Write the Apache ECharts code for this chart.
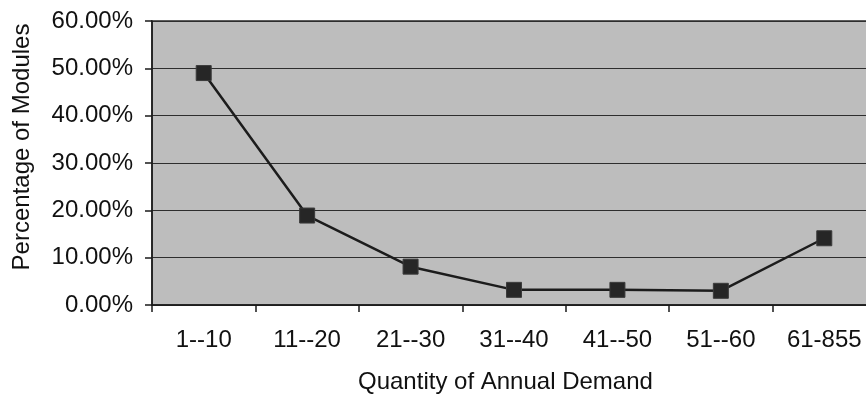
<!DOCTYPE html>
<html>
<head>
<meta charset="utf-8">
<style>
  html, body { margin: 0; padding: 0; background: #ffffff; overflow: hidden; }
  /* The plot runs a little past the right edge of the window, so the
     chart surface is slightly wider than the viewport and clipped. */
  #chart { width: 876px; height: 396px; }
</style>
<script src="https://cdn.jsdelivr.net/npm/echarts@6/dist/echarts.min.js"></script>
</head>
<body>
<div id="chart"></div>
<script>
// Demand buckets and the share of modules falling into each (percent)
const demandRanges = ['1--10', '11--20', '21--30', '31--40', '41--50', '51--60', '61-855'];
const moduleShare = [49.0, 18.9, 8.1, 3.2, 3.2, 3.0, 14.1];
const yTicks = { min: 0, max: 60, step: 10 };

const FONT = '"Liberation Sans", Arial, Helvetica, sans-serif';
const chart = echarts.init(document.getElementById('chart'), null, { renderer: 'canvas' });

chart.setOption({
  animation: false,
  backgroundColor: '#ffffff',
  textStyle: { fontFamily: FONT },
  grid: {
    left: 152,
    top: 21,
    right: 0,
    bottom: 91,
    containLabel: false,
    show: true,
    backgroundColor: '#bdbdbd',
    borderColor: '#2a2a2a',
    borderWidth: 1.5
  },
  xAxis: {
    type: 'category',
    data: demandRanges,
    boundaryGap: true,
    axisLine: { lineStyle: { color: '#1a1a1a', width: 1.5 } },
    axisTick: { show: true, inside: false, length: 7, lineStyle: { color: '#1a1a1a', width: 1.5 } },
    axisLabel: { color: '#111', fontSize: 24, margin: 23, fontFamily: FONT, interval: 0 },
    splitLine: { show: false }
  },
  yAxis: {
    type: 'value',
    min: yTicks.min,
    max: yTicks.max,
    interval: yTicks.step,
    axisLine: { show: true, lineStyle: { color: '#1a1a1a', width: 1.5 } },
    axisTick: { show: true, inside: false, length: 7, lineStyle: { color: '#1a1a1a', width: 1.5 } },
    axisLabel: {
      color: '#111', fontSize: 24, margin: 19, fontFamily: FONT,
      formatter: v => v.toFixed(2) + '%'
    },
    splitLine: { show: true, lineStyle: { color: '#2e2e2e', width: 1.2 } }
  },
  graphic: [
    {
      type: 'text',
      left: 358,
      top: 370,
      style: { text: 'Quantity of Annual Demand', fill: '#111', font: '24px ' + FONT }
    },
    {
      type: 'text',
      x: 22,
      y: 147,
      rotation: Math.PI / 2,
      style: {
        text: 'Percentage of Modules', fill: '#111', font: '24px ' + FONT,
        align: 'center', verticalAlign: 'middle'
      }
    }
  ],
  series: [{
    type: 'line',
    data: moduleShare,
    symbol: 'rect',
    symbolSize: 15,
    lineStyle: { color: '#1c1c1c', width: 2.5 },
    itemStyle: { color: '#262626', borderColor: '#3a3a3a', borderWidth: 1 },
    z: 5
  }]
});
</script>
</body>
</html>
